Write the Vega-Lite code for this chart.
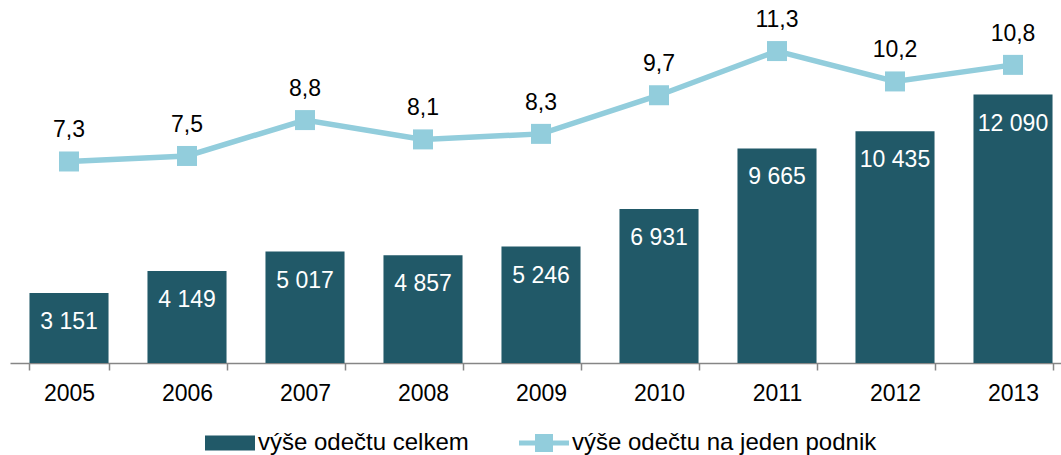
{
  "$schema": "https://vega.github.io/schema/vega-lite/v6.json",
  "width": 1051,
  "height": 363,
  "autosize": {"type": "none"},
  "padding": {"left": 10, "top": 0, "right": 0, "bottom": 92},
  "background": "white",
  "config": {
    "view": {"stroke": null},
    "font": "Liberation Sans",
    "locale": {"number": {"decimal": ",", "thousands": " ", "grouping": [3], "currency": ["", ""]}}
  },
  "data": {"values": [
    {"rok": "2005", "celkem": 3151, "podnik": 7.3},
    {"rok": "2006", "celkem": 4149, "podnik": 7.5},
    {"rok": "2007", "celkem": 5017, "podnik": 8.8},
    {"rok": "2008", "celkem": 4857, "podnik": 8.1},
    {"rok": "2009", "celkem": 5246, "podnik": 8.3},
    {"rok": "2010", "celkem": 6931, "podnik": 9.7},
    {"rok": "2011", "celkem": 9665, "podnik": 11.3},
    {"rok": "2012", "celkem": 10435, "podnik": 10.2},
    {"rok": "2013", "celkem": 12090, "podnik": 10.8}
  ]},
  "encoding": {
    "x": {
      "field": "rok", "type": "nominal", "sort": null,
      "scale": {"range": [0, 1062], "paddingInner": 0.33, "paddingOuter": 0.165},
      "axis": {
        "title": null, "labelAngle": 0, "labelFontSize": 23, "labelColor": "#000000",
        "labelFont": "Liberation Sans", "labelPadding": 12,
        "tickBand": "extent", "tickSize": 7, "tickColor": "#868686",
        "domainColor": "#868686", "domainWidth": 1.5, "tickWidth": 1.5
      }
    }
  },
  "layer": [
    {
      "encoding": {
        "y": {"field": "celkem", "type": "quantitative", "scale": {"domain": [0, 16350], "nice": false}, "axis": null}
      },
      "layer": [
        {
          "mark": {"type": "bar"},
          "encoding": {
            "color": {
              "datum": "výše odečtu celkem", "type": "nominal",
              "scale": {"domain": ["výše odečtu celkem", "výše odečtu na jeden podnik"], "range": ["#215968", "#92CDDC"]},
              "legend": {
                "title": null, "orient": "none", "legendX": 195, "legendY": 418, "direction": "horizontal",
                "labelFontSize": 24, "labelFont": "Liberation Sans", "labelColor": "#000000",
                "symbolSize": 2500, "labelOffset": 3, "columnPadding": 50,
                "labelLimit": 500,
                "encode": {
                  "symbols": {
                    "update": {
                      "shape": {"signal": "datum.value === 'výše odečtu celkem' ? 'M-1,-0.3H1V0.3H-1Z' : 'M-1,-0.1H1V0.1H-1Z M-0.36,-0.36H0.36V0.36H-0.36Z'"},
                      "fill": {"signal": "datum.value === 'výše odečtu celkem' ? '#215968' : '#92CDDC'"},
                      "stroke": {"value": null},
                      "strokeWidth": {"value": 0},
                      "opacity": {"value": 1},
                      "fillOpacity": {"value": 1}
                    }
                  }
                }
              }
            }
          }
        },
        {
          "mark": {"type": "text", "color": "#FFFFFF", "fontSize": 23, "baseline": "middle", "dy": 29, "font": "Liberation Sans"},
          "encoding": {"text": {"field": "celkem", "type": "quantitative", "format": ",d"}}
        }
      ]
    },
    {
      "encoding": {
        "y": {"field": "podnik", "type": "quantitative", "scale": {"domain": [0, 13.15], "nice": false}, "axis": null}
      },
      "layer": [
        {
          "mark": {"type": "line", "strokeWidth": 5.5, "point": {"filled": true, "shape": "square", "size": 400, "opacity": 1}},
          "encoding": {
            "color": {"datum": "výše odečtu na jeden podnik", "type": "nominal"}
          }
        },
        {
          "mark": {"type": "text", "color": "#000000", "fontSize": 23, "baseline": "middle", "dy": -31, "font": "Liberation Sans"},
          "encoding": {"text": {"field": "podnik", "type": "quantitative", "format": ".1f"}}
        }
      ]
    }
  ],
  "resolve": {"scale": {"y": "independent"}}
}
